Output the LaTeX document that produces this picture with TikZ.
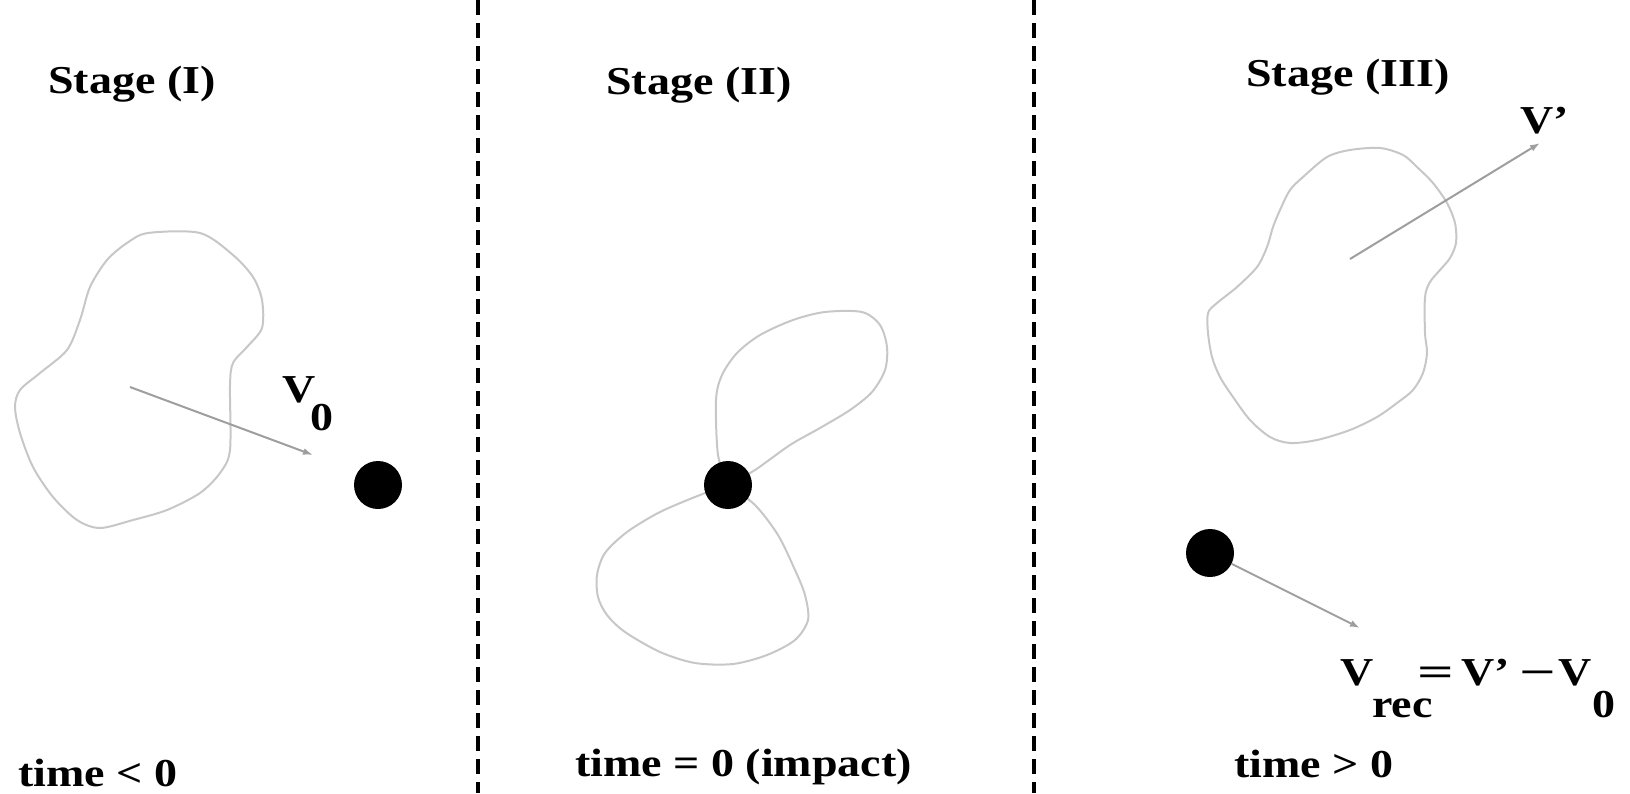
\documentclass[tikz,border=0pt]{standalone}
\usepackage{fontspec}
\setmainfont{Liberation Serif}
\usetikzlibrary{arrows.meta}
\newcommand{\sqz}[1]{\scalebox{1}[0.86]{#1}}
\newcommand{\wide}[1]{\scalebox{1.4}[1]{#1}}
\begin{document}
\begin{tikzpicture}[x=1pt,y=-1pt,
  lbl/.style={anchor=base west, inner sep=0pt, font=\fontsize{46}{50}\selectfont\bfseries},
  blob/.style={draw=black!22, line width=2pt},
  vec/.style={draw=black!38, line width=2pt, -{Latex[length=10pt,width=7pt]}},
  ball/.style={circle, fill=black, minimum size=48pt, inner sep=0pt},
  sep/.style={line width=3.5pt, dash pattern=on 15pt off 8pt}]
\useasboundingbox (0,0) rectangle (1630,793);

% separators
\coordinate (s1t) at (478,0);  \coordinate (s1b) at (478,793);
\coordinate (s2t) at (1034,0); \coordinate (s2b) at (1034,793);
\draw[sep] (s1t) -- (s1b);
\draw[sep] (s2t) -- (s2b);

% titles
\node[lbl] (st1) at (48,93)   {\sqz{Stage (I)}};
\node[lbl] (st2) at (606,94)  {\sqz{Stage (II)}};
\node[lbl] (st3) at (1246,86) {\sqz{Stage (III)}};
\node[lbl] (t1) at (18,786)   {\sqz{time < 0}};
\node[lbl] (t2) at (575,776)  {\sqz{time = 0 (impact)}};
\node[lbl] (t3) at (1234,777) {\sqz{time > 0}};

% Stage I
\draw[blob] plot[smooth cycle] coordinates {(148,233) (200,233) (233,255) (253,277) (262,300) (262,328) (247,347) (233,363) (230,385) (230,450) (220,473) (200,493) (167,510) (133,520) (100,528) (77,520) (53,497) (33,467) (20,433) (15,407) (20,390) (40,373) (67,350) (80,320) (90,287) (107,260) (127,243)};
\coordinate (a1s) at (130,387); \coordinate (a1e) at (313,455);
\draw[vec] (a1s) -- (a1e);
\node[ball] (d1) at (378,485) {};
\node[lbl] (v0) at (282,402) {\sqz{V}};
\node[lbl] (v0s) at (310,430) {\sqz{0}};

% Stage II
\draw[blob] plot[smooth] coordinates {(728,485) (718,455) (716,400) (722,375) (737,353) (760,335) (793,320) (825,312) (862,312) (880,325) (887,347) (885,370) (872,392) (850,410) (820,428) (790,445) (755,470) (728,485)};
\draw[blob] plot[smooth] coordinates {(728,485) (700,495) (660,512) (627,532) (605,553) (597,575) (598,597) (607,615) (625,632) (660,652) (695,663) (733,664) (767,655) (795,640) (808,620) (805,595) (795,570) (778,535) (755,505) (728,485)};
\node[ball] (d2) at (728,485) {};

% Stage III
\draw[blob] plot[smooth cycle] coordinates {(1327,157) (1350,150) (1380,148) (1403,155) (1417,167) (1433,183) (1447,203) (1455,223) (1456,243) (1450,258) (1440,270) (1430,282) (1425,297) (1425,333) (1427,353) (1423,373) (1413,390) (1397,403) (1377,417) (1350,430) (1317,440) (1290,443) (1270,437) (1250,420) (1233,397) (1220,377) (1212,357) (1208,333) (1208,313) (1217,303) (1237,287) (1257,267) (1267,247) (1273,227) (1280,210) (1290,190) (1303,177)};
\coordinate (a2s) at (1350,259); \coordinate (a2e) at (1540,143);
\draw[vec] (a2s) -- (a2e);
\node[lbl] (vp) at (1520,133) {\sqz{V'}};
\coordinate (a3e) at (1360,628);
\node[ball] (d3) at (1210,553) {};
\draw[vec] (d3) -- (a3e);

\node[lbl] (vr)   at (1340,685) {\sqz{V}};
\node[lbl] (vrs)  at (1372,717) {\sqz{rec}};
\node[lbl] (veq)  at (1417,685) {\sqz{\wide{=}}};
\node[lbl] (vp2)  at (1461,685) {\sqz{V'}};
\node[lbl] (vmin) at (1519,685) {\sqz{\wide{−}}};
\node[lbl] (vz)   at (1558,685) {\sqz{V}};
\node[lbl] (vzs)  at (1592,717) {\sqz{0}};
\end{tikzpicture}
\end{document}
